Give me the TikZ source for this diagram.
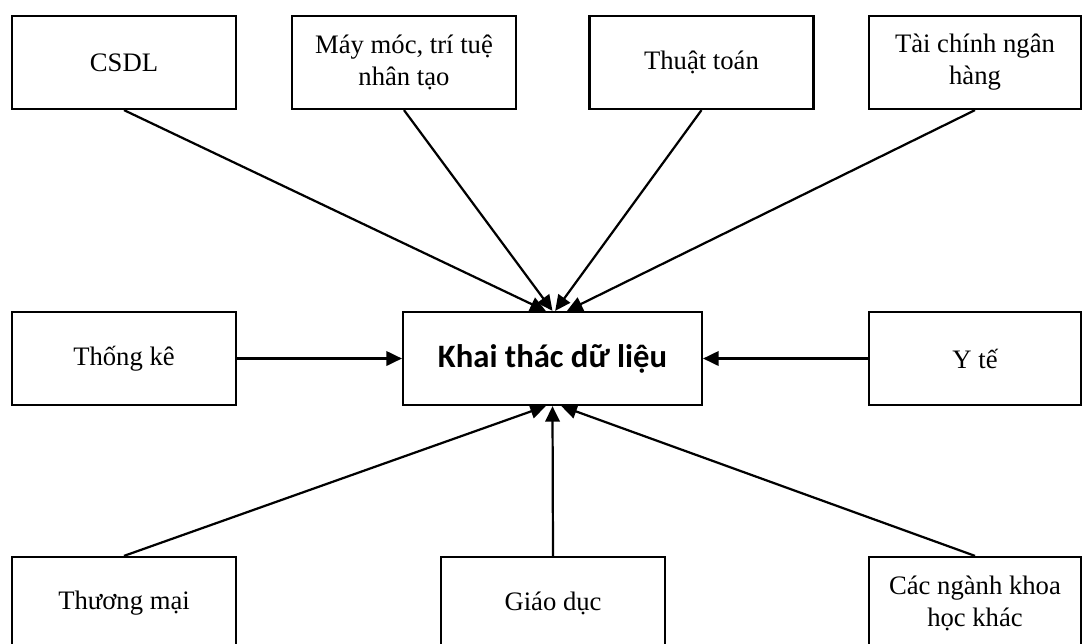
\documentclass[tikz,border=0pt]{standalone}
\usepackage{fontspec}
\setmainfont{Liberation Serif}
\newfontfamily\corefont{Carlito}
\usetikzlibrary{arrows.meta,positioning}
\tikzset{
  field/.style={rectangle, draw, line width=1pt, align=center,
                minimum width=100.8pt, minimum height=41.85pt, inner sep=2pt,
                font=\fontsize{12}{14.4}\selectfont},
  fieldR/.style={field, minimum width=95.4pt},
  core/.style={field, minimum width=134.5pt,
               font=\corefont\bfseries\fontsize{14.7}{17}\selectfont},
  feed/.style={-{Triangle[length=7pt,width=6.5pt]}, line width=1pt},
}

\begin{document}
\begin{tikzpicture}[x=0.45pt, y=-0.45pt]
  \useasboundingbox (0,0) rectangle (1082,643);
  \clip (0,0) rectangle (1082,643);
  % centre
  \node[core] (khai) at (552.5,358.5) {Khai thác dữ liệu};
  % top row
  \node[field] (csdl) at (124,62.5) {CSDL};
  \node[field] (maymoc) at (404,62.5) {Máy móc, trí tuệ\\nhân tạo};
  \node[field] (thuattoan) at (701.5,62.5) {Thuật toán};
  \node[fieldR] (taichinh) at (975,62.5) {Tài chính ngân\\hàng};
  % middle row
  \node[field] (thongke) at (124,358.5) {Thống kê};
  \node[fieldR] (yte) at (975,358.5) {Y tế};
  % bottom row
  \node[field] (thuongmai) at (124,603.5) {Thương mại};
  \node[field] (giaoduc) at (553,603.5) {Giáo dục};
  \node[fieldR] (khoahoc) at (975,603.5) {Các ngành khoa\\học khác};
  % arrows
  \draw[feed] (csdl.south) -- ([xshift=-3pt]khai.north);
  \draw[feed] (maymoc.south) -- ([xshift=0pt]khai.north);
  \draw[feed] (thuattoan.south) -- ([xshift=1.2pt]khai.north);
  \draw[feed] (taichinh.south) -- ([xshift=6.5pt]khai.north);
  \draw[feed] (thongke.east) -- (khai.west);
  \draw[feed] (yte.west) -- (khai.east);
  \draw[feed] (thuongmai.north) -- ([xshift=-3pt]khai.south);
  \draw[feed] (giaoduc.north) -- (khai.south);
  \draw[feed] (khoahoc.north) -- ([xshift=4pt]khai.south);
\end{tikzpicture}
\end{document}
